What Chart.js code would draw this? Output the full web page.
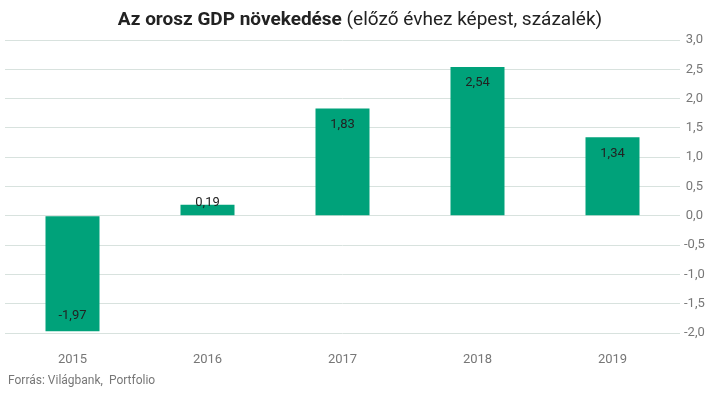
<!DOCTYPE html>
<html>
<head>
<meta charset="utf-8">
<script src="https://cdn.jsdelivr.net/npm/chart.js@4"></script>
<style>
  html, body { margin: 0; padding: 0; background: #fff; }
  #wrap { position: relative; width: 715px; height: 393px; }
</style>
</head>
<body>
<div id="wrap"><canvas id="myChart" width="715" height="393"></canvas></div>
<script>
// data
const years = ['2015', '2016', '2017', '2018', '2019'];
const growth = [-1.97, 0.19, 1.83, 2.54, 1.34];
const titleBold = 'Az orosz GDP növekedése';
const titleNormal = ' (előző évhez képest, százalék)';
const sourceText = 'Forrás: Világbank,  Portfolio';

const fmt = v => v.toFixed(2).replace('.', ',');

// title, footer and value labels drawn on the canvas
const textPlugin = {
  id: 'texts',
  afterDraw(chart) {
    const ctx = chart.ctx;
    ctx.save();
    // title with mixed weights
    ctx.textBaseline = 'middle';
    ctx.fillStyle = '#222';
    ctx.font = 'bold 19px Roboto';
    const wb = ctx.measureText(titleBold).width;
    ctx.font = '19px Roboto';
    const wn = ctx.measureText(titleNormal).width;
    let x = 360 - (wb + wn) / 2;
    ctx.textAlign = 'left';
    ctx.font = 'bold 19px Roboto';
    ctx.fillText(titleBold, x, 20);
    ctx.font = '19px Roboto';
    ctx.fillText(titleNormal, x + wb, 20);
    // source
    ctx.font = '12px Roboto';
    ctx.fillStyle = '#777';
    ctx.fillText(sourceText, 8, 381);
    // value labels
    const meta = chart.getDatasetMeta(0);
    ctx.font = '13px Roboto';
    ctx.fillStyle = '#222';
    ctx.textAlign = 'center';
    meta.data.forEach((bar, i) => {
      const v = growth[i];
      const h = Math.abs(bar.base - bar.y);
      let y;
      if (h < 30) y = bar.y - 2;
      else if (v >= 0) y = bar.y + 16;
      else y = bar.y - 15;
      ctx.fillText(fmt(v), bar.x, y);
    });
    ctx.restore();
  }
};

const config = {
  type: 'bar',
  data: {
    labels: years,
    datasets: [{
      data: growth,
      backgroundColor: '#00a27a',
      barPercentage: 0.4,
      categoryPercentage: 1
    }]
  },
  options: {
    responsive: false,
    animation: false,
    layout: { padding: { top: 40, left: 5, right: 0, bottom: 0 } },
    plugins: {
      legend: { display: false },
      title: { display: false },
      tooltip: { enabled: false }
    },
    scales: {
      x: {
        grid: { display: false },
        border: { display: false },
        ticks: { color: '#777', font: { family: 'Roboto', size: 13 }, padding: 11 },
        afterFit(scale) { scale.height = 60; }
      },
      y: {
        position: 'right',
        min: -2,
        max: 3,
        grid: { color: '#d8e2de', drawTicks: false },
        border: { display: false },
        ticks: {
          stepSize: 0.5,
          color: '#777',
          font: { family: 'Roboto', size: 13 },
          crossAlign: 'center',
          padding: 4,
          callback: v => v.toFixed(1).replace('.', ',')
        },
        afterFit(scale) { scale.width = 35; }
      }
    }
  },
  plugins: [textPlugin]
};

new Chart(document.getElementById('myChart'), config);
</script>
</body>
</html>
